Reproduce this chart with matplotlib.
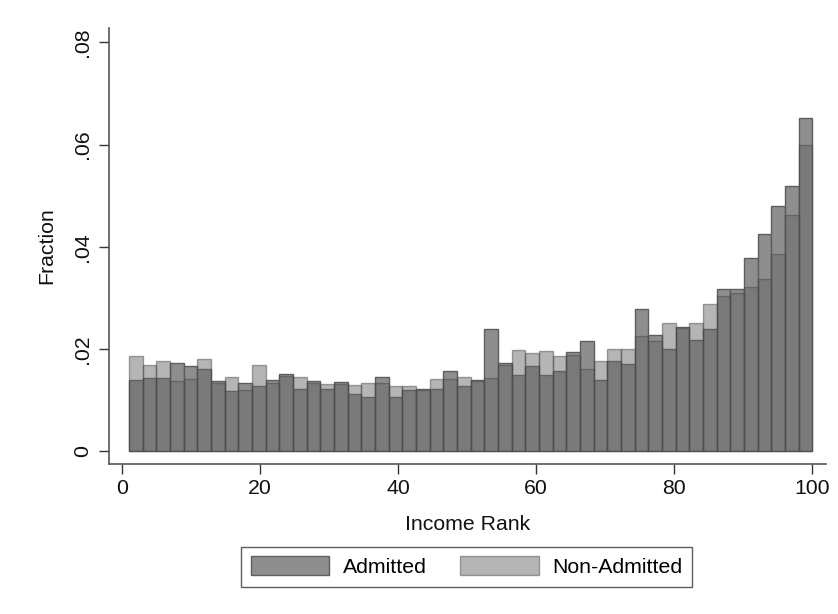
import numpy as np
import matplotlib
matplotlib.use("Agg")
import matplotlib.pyplot as plt

# bar heights (fraction), 50 bins over income rank 1..100
admitted = [0.0140, 0.0144, 0.0144, 0.0172, 0.0167, 0.0160, 0.0138, 0.0117, 0.0133, 0.0127,
            0.0139, 0.0151, 0.0122, 0.0138, 0.0121, 0.0135, 0.0111, 0.0106, 0.0145, 0.0106,
            0.0119, 0.0122, 0.0121, 0.0156, 0.0127, 0.0140, 0.0239, 0.0173, 0.0150, 0.0166,
            0.0149, 0.0156, 0.0195, 0.0216, 0.0140, 0.0177, 0.0171, 0.0278, 0.0228, 0.0200,
            0.0244, 0.0217, 0.0239, 0.0317, 0.0317, 0.0378, 0.0424, 0.0479, 0.0518, 0.0652]
non_admitted = [0.0187, 0.0169, 0.0176, 0.0137, 0.0142, 0.0180, 0.0133, 0.0146, 0.0119, 0.0168,
                0.0134, 0.0148, 0.0146, 0.0134, 0.0132, 0.0132, 0.0130, 0.0133, 0.0133, 0.0127,
                0.0128, 0.0120, 0.0141, 0.0141, 0.0146, 0.0138, 0.0143, 0.0168, 0.0198, 0.0193,
                0.0197, 0.0187, 0.0189, 0.0161, 0.0176, 0.0200, 0.0200, 0.0226, 0.0215, 0.0250,
                0.0242, 0.0250, 0.0289, 0.0304, 0.0309, 0.0321, 0.0337, 0.0385, 0.0462, 0.0600]
rank_min, rank_max = 1, 100
xticks = [0, 20, 40, 60, 80, 100]
yticks = [0, 0.02, 0.04, 0.06, 0.08]
ytick_labels = ["0", ".02", ".04", ".06", ".08"]

plt.rcParams['font.family'] = ['Liberation Sans', 'DejaVu Sans']
fs = 15.3

edges = np.linspace(rank_min, rank_max, len(admitted) + 1)
width = edges[1] - edges[0]

fig = plt.figure(figsize=(8.38, 6.14), dpi=100)
ax = fig.add_axes([0.130, 0.2443, 0.8557, 0.7101])

ax.bar(edges[:-1], admitted, width=width, align='edge', color='#8e8e8e',
       edgecolor='#5e5e5e', linewidth=1.0, label='Admitted', zorder=2)
ax.bar(edges[:-1], non_admitted, width=width, align='edge', color='#666666',
       edgecolor='#444444', linewidth=1.0, alpha=0.48, label='Non-Admitted', zorder=3)

ax.set_xlim(-1.9, 102.0)
ax.set_ylim(-0.0025, 0.0828)
ax.set_xticks(xticks)
ax.set_yticks(yticks)
ax.set_yticklabels(ytick_labels, rotation=90, va='center')

for s in ['top', 'right']:
    ax.spines[s].set_visible(False)
for s in ['left', 'bottom']:
    ax.spines[s].set_color('#555555')
    ax.spines[s].set_linewidth(1.2)
ax.tick_params(axis='both', direction='out', length=7, width=1.0, color='#333333',
               labelsize=fs, labelcolor='#111111')
ax.tick_params(axis='x', pad=4)
ax.tick_params(axis='y', pad=5)

ax.set_xlabel('Income Rank', fontsize=fs, color='#111111', labelpad=12)
ax.set_ylabel('Fraction', fontsize=fs, color='#111111', labelpad=12)

handles, labels = ax.get_legend_handles_labels()
leg = fig.legend(handles, labels, loc='center', bbox_to_anchor=(0.557, 0.077), ncol=2,
                 fontsize=fs, frameon=True, fancybox=False, handlelength=3.7,
                 handleheight=0.95, handletextpad=0.65, columnspacing=1.55,
                 borderpad=0.45, edgecolor='#333333')
leg.get_frame().set_linewidth(1.0)

fig.savefig('out.png', dpi=100, facecolor='white')
